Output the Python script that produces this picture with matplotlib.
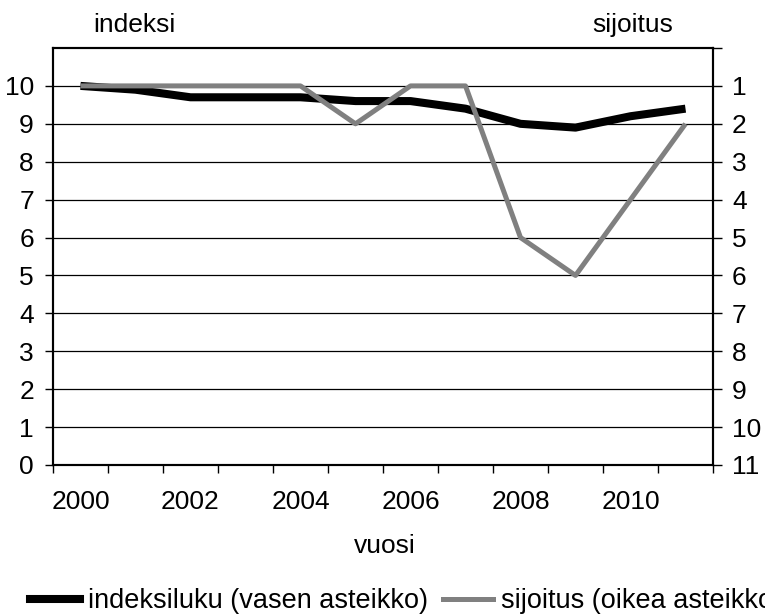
import matplotlib.pyplot as plt
import numpy as np
from matplotlib.lines import Line2D

plt.rcParams['font.family'] = ['Liberation Sans', 'DejaVu Sans']
FS = 19

years = [2000, 2001, 2002, 2003, 2004, 2005, 2006, 2007, 2008, 2009, 2010, 2011]
indeksi = [10.0, 9.9, 9.7, 9.7, 9.7, 9.6, 9.6, 9.4, 9.0, 8.9, 9.2, 9.4]
sijoitus = [1, 1, 1, 1, 1, 2, 1, 1, 5, 6, 4, 2]
year_labels = ['2000', '2002', '2004', '2006', '2008', '2010']

fig = plt.figure(figsize=(7.65, 6.14), dpi=100)
ax = fig.add_axes([53/765, 1-465/614, (713-53)/765, (465-48)/614])
ax2 = ax.twinx()

x = np.arange(len(years))

ax.set_xlim(-0.5, len(years)-0.5)
ax.set_ylim(0, 11)
ax2.set_ylim(11, 0)

# gridlines
for v in range(1, 11):
    ax.axhline(v, color='black', lw=0.9, zorder=1)

ax.plot(x, indeksi, color='black', lw=5.8, zorder=3, solid_capstyle='butt')
ax2.plot(x, sijoitus, color='#808080', lw=3.6, zorder=3, solid_capstyle='butt')

# left axis
ax.set_yticks(range(0, 11))
ax.set_yticklabels([str(v) for v in range(0, 11)])
ax.tick_params(axis='y', direction='out', length=5.8, width=1.0, pad=7.9, labelsize=FS)

# x axis: ticks at category boundaries, labels at centers
ax.set_xticks(np.arange(-0.5, len(years), 1.0))
ax.set_xticklabels([])
ax.tick_params(axis='x', which='major', direction='out', length=5.8, width=1.0)
ax.set_xticks(x[::2], minor=True)
ax.set_xticklabels(year_labels, minor=True)
ax.tick_params(axis='x', which='minor', length=0, pad=18, labelsize=FS)

# right axis
ax2.set_yticks(range(0, 12))
ax2.set_yticklabels([''] + [str(v) for v in range(1, 12)])
ax2.tick_params(axis='y', direction='out', length=6.5, width=1.0, pad=7.2, labelsize=FS)

for a in (ax, ax2):
    for s in a.spines.values():
        s.set_linewidth(1.5)
        s.set_color('black')

fig.text(93/765, 1-32/614, 'indeksi', ha='left', va='baseline', fontsize=FS)
fig.text(673/765, 1-32/614, 'sijoitus', ha='right', va='baseline', fontsize=FS)
fig.text(385/765, 1-553/614, 'vuosi', ha='center', va='baseline', fontsize=FS)

handles = [Line2D([], [], color='black', lw=5.8),
           Line2D([], [], color='#808080', lw=3.6)]
fig.legend(handles, ['indeksiluku (vasen asteikko)', 'sijoitus (oikea asteikko)'],
           loc='center left', bbox_to_anchor=(30/765, 1-601/614), ncol=2, frameon=False,
           handlelength=1.85, handletextpad=0.3, columnspacing=0.55, fontsize=19.5,
           borderaxespad=0, borderpad=0)

fig.savefig('out.png', dpi=100)
